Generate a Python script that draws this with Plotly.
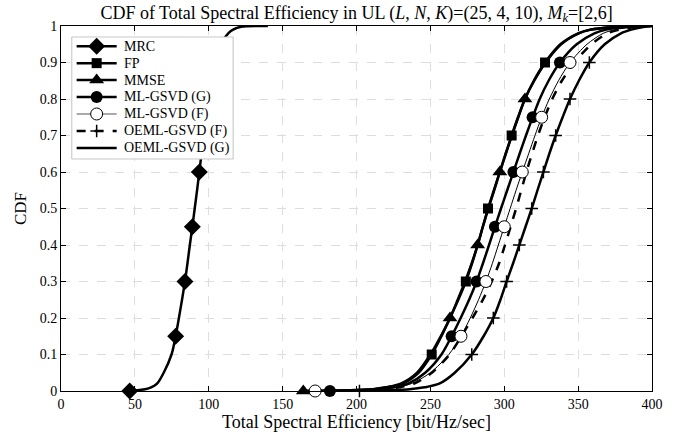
import plotly.graph_objects as go

# CDF levels (shared)
cdf = [0, 0.005, 0.01, 0.02, 0.05, 0.1, 0.15, 0.2, 0.25, 0.3, 0.35, 0.4, 0.45, 0.5,
       0.55, 0.6, 0.65, 0.7, 0.75, 0.8, 0.85, 0.9, 0.95, 0.98, 0.99, 0.998, 1]

# Total spectral efficiency [bit/Hz/sec] at each CDF level
se_mrc = [46.5, 57, 61, 65, 69.5, 74.8, 77.6, 79.8, 81.9, 83.9, 85.6, 87.2, 88.9, 90.5,
          92.1, 93.6, 95.1, 96.6, 98.2, 99.9, 101.8, 104.3, 108, 113.2, 116.5, 122, 140]
se_fp = [165, 212, 221, 231, 242, 250.9, 257.5, 263.3, 268.9, 274, 278.2, 282, 285.5, 289,
         293, 297, 301, 305, 309.3, 314, 320, 327.6, 338, 350, 358, 378, 396]
se_mmse = [164, 211, 220, 230, 241, 250, 257, 263.3, 268.5, 273.5, 278, 282, 285.5, 289.3,
           293.2, 297, 301, 305.2, 309.5, 314, 320.3, 328, 338.5, 350.5, 358.5, 378, 396]
se_mlg = [182, 216, 225, 235, 246.5, 257.5, 264.4, 270.5, 276.2, 281.3, 285.6, 289.7, 293.7, 297.8,
          302, 306.2, 310.4, 314.7, 319.2, 324, 330, 337.7, 349, 361, 369, 385, 399]
se_mlf = [172, 218, 227, 237, 250, 262.5, 270.7, 277, 282.6, 287.6, 292, 296, 300, 304,
          308, 312.2, 316.5, 320.8, 325.3, 330.5, 336.7, 344.5, 356, 367, 375, 388, 400]
se_oemlf = [190, 220, 229, 239, 251, 263, 271, 278.5, 285.5, 291.5, 296.5, 300.5, 304.3, 308,
            311.5, 315, 318.8, 322.8, 327.3, 332.5, 339, 347.5, 359, 370, 378, 390, 400]
se_oemlg = [202, 236, 246, 256, 266.5, 278, 286, 292.6, 297.4, 301.6, 306, 310.2, 314.4, 318.6,
            322.5, 326.5, 330.5, 334.8, 339.5, 344.5, 350.5, 357.6, 368, 379, 386, 395, 400]

# CDF levels where markers are drawn
mk_mrc = [0, 0.15, 0.3, 0.45, 0.6, 0.75, 0.9]
mk_fp = [0.1, 0.3, 0.5, 0.7, 0.9]
mk_mmse = [0, 0.2, 0.4, 0.6, 0.8]
mk_mlg = [0, 0.15, 0.3, 0.45, 0.6, 0.75, 0.9]
mk_mlf = [0, 0.15, 0.3, 0.45, 0.6, 0.75, 0.9]
mk_oeml = [0, 0.1, 0.2, 0.3, 0.4, 0.5, 0.6, 0.7, 0.8, 0.9]

names = ["MRC", "FP", "MMSE", "ML-GSVD (G)", "ML-GSVD (F)", "OEML-GSVD (F)", "OEML-GSVD (G)"]

FONT = "Liberation Serif"

M_DIAMOND = dict(symbol="diamond", size=13, color="black")
M_SQUARE = dict(symbol="square", size=10, color="black")
M_TRI = dict(symbol="triangle-up", size=13, color="black")
M_CIRC = dict(symbol="circle", size=12, color="black")
M_OCIRC = dict(symbol="circle", size=12, color="white", line=dict(color="black", width=1))
M_PLUS = dict(symbol="cross-thin", size=9, color="black", line=dict(color="black", width=1.5))


def pick(series, levels):
    idx = [min(range(len(cdf)), key=lambda i: abs(cdf[i] - v)) for v in levels]
    return [series[i] for i in idx], [cdf[i] for i in idx]


fig = go.Figure()

lines = [
    (se_mrc, 2.5, "solid"),
    (se_fp, 2.5, "solid"),
    (se_mmse, 2.5, "solid"),
    (se_mlg, 2.5, "solid"),
    (se_mlf, 1.0, "solid"),
    (se_oemlf, 2.5, "dash"),
    (se_oemlg, 2.5, "solid"),
]
for s, w, d in lines:
    fig.add_trace(go.Scatter(x=s, y=cdf, mode="lines", showlegend=False,
                             line=dict(color="black", width=w, dash=d, shape="spline", smoothing=0.8),
                             hoverinfo="skip"))

markers = [
    (se_mrc, mk_mrc, M_DIAMOND),
    (se_fp, mk_fp, M_SQUARE),
    (se_mmse, mk_mmse, M_TRI),
    (se_mlg, mk_mlg, M_CIRC),
    (se_mlf, mk_mlf, M_OCIRC),
    (se_oemlg, mk_oeml, M_PLUS),
]
for s, lv, m in markers:
    xs, ys = pick(s, lv)
    fig.add_trace(go.Scatter(x=xs, y=ys, mode="markers", showlegend=False, marker=m,
                             cliponaxis=False, hoverinfo="skip"))

# ---- legend box drawn in its own small (hidden) axes, in pixel-like units ----
LEG_W, LEG_H, ROW, TOP = 161.6, 122.6, 16.95, 9.5
fig.add_trace(go.Scatter(x=[0, LEG_W, LEG_W, 0, 0], y=[0, 0, LEG_H, LEG_H, 0], xaxis="x2", yaxis="y2",
                         mode="lines", fill="toself", fillcolor="white",
                         line=dict(color="#777777", width=1), showlegend=False, hoverinfo="skip"))
leg_styles = [
    (dict(color="black", width=2.5), M_DIAMOND),
    (dict(color="black", width=2.5), M_SQUARE),
    (dict(color="black", width=2.5), M_TRI),
    (dict(color="black", width=2.5), M_CIRC),
    (dict(color="#555555", width=1), M_OCIRC),
    (dict(color="black", width=2.5, dash="dash"), M_PLUS),
    (dict(color="black", width=2.5), None),
]
for i, (name, (ln, mk)) in enumerate(zip(names, leg_styles)):
    yc = TOP + ROW * i
    fig.add_trace(go.Scatter(x=[5, 45], y=[yc, yc], xaxis="x2", yaxis="y2", mode="lines",
                             line=ln, showlegend=False, hoverinfo="skip"))
    if mk:
        fig.add_trace(go.Scatter(x=[25], y=[yc], xaxis="x2", yaxis="y2", mode="markers",
                                 marker=mk, showlegend=False, hoverinfo="skip", cliponaxis=False))
    fig.add_annotation(x=50, y=yc, xref="x2", yref="y2", text=name, showarrow=False,
                       xanchor="left", yanchor="middle",
                       font=dict(family=FONT, size=14, color="black"))

axis_common = dict(showline=True, linecolor="black", linewidth=1, mirror="ticks",
                   ticks="inside", ticklen=5, tickcolor="black", showgrid=True,
                   gridcolor="#dedede", griddash="dash", gridwidth=1, zeroline=False,
                   automargin=False,
                   tickfont=dict(family=FONT, size=14, color="black"))

fig.update_layout(
    xaxis=dict(range=[0, 400], dtick=50, tick0=0,
               title=dict(text="Total Spectral Efficiency [bit/Hz/sec]",
                          font=dict(family=FONT, size=18, color="black"), standoff=4),
               **axis_common),
    yaxis=dict(range=[0, 1], dtick=0.1, tick0=0,
               title=dict(text="CDF", font=dict(family=FONT, size=17, color="black"), standoff=8),
               **axis_common),
    xaxis2=dict(domain=[0.018, 0.2916], range=[0, LEG_W], visible=False, anchor="y2"),
    yaxis2=dict(domain=[0.6348, 0.9707], range=[LEG_H, 0], visible=False, anchor="x2"),
    width=683, height=438,
    margin=dict(l=61, r=31, t=26, b=47),
    paper_bgcolor="white", plot_bgcolor="white",
    title=dict(text="CDF of Total Spectral Efficiency in UL (<i>L</i>, <i>N</i>, <i>K</i>)=(25, 4, 10), "
                    "<i>M</i><sub><i>k</i></sub>=[2,6]",
               x=0.522, xanchor="center", y=0.972, yanchor="middle", yref="container",
               font=dict(family=FONT, size=18, color="black")),
    showlegend=False,
)

fig.write_html("out.html", config={"displayModeBar": False},
               post_script="document.body.style.margin='0px';")
